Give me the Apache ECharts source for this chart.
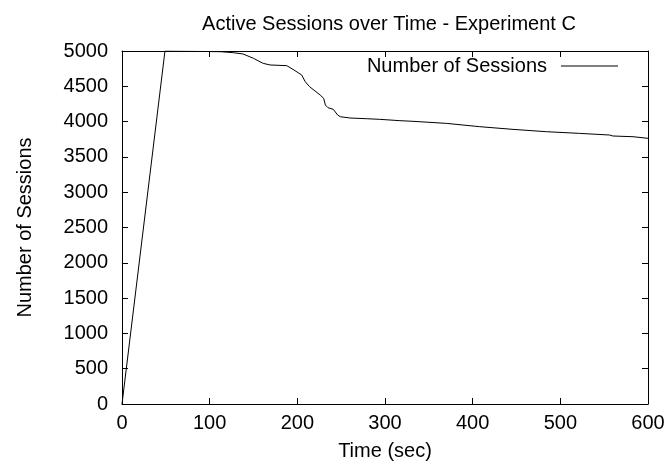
<!DOCTYPE html>
<html>
<head>
<meta charset="utf-8">
<script src="https://cdn.jsdelivr.net/npm/echarts@6/dist/echarts.min.js"></script>
<style>html,body{margin:0;padding:0;background:#fff;}#c{width:669px;height:468px;}</style>
</head>
<body>
<div id="c"></div>
<script>
const chartTitle = 'Active Sessions over Time - Experiment C';
const seriesName = 'Number of Sessions';
const xAxisName = 'Time (sec)';
const yAxisName = 'Number of Sessions';
const timeSec = [0, 49, 113, 127, 138, 150, 161, 169, 188, 195, 205, 209, 214, 226, 230, 232, 235, 241, 246, 249, 260, 279, 294, 317, 332, 370, 408, 446, 484, 522, 556, 560, 583, 600];
const sessions = [0, 5000, 4990, 4976, 4958, 4896, 4825, 4802, 4792, 4740, 4660, 4565, 4494, 4377, 4330, 4235, 4197, 4174, 4093, 4069, 4051, 4041, 4032, 4013, 4004, 3975, 3928, 3890, 3857, 3833, 3810, 3796, 3786, 3763];

const data = timeSec.map((t, i) => [t, sessions[i]]);
const font = 'Liberation Sans, Arial, sans-serif';
const FS = 20;
const chart = echarts.init(document.getElementById('c'), null, {renderer: 'canvas'});
const axisLine = {show: true, onZero: false, lineStyle: {color: '#000', width: 1}};
const tick = {show: true, inside: true, length: 6, lineStyle: {color: '#000'}};
const plain = v => String(v);
chart.setOption({
  animation: false,
  backgroundColor: '#fff',
  title: {
    text: chartTitle, left: 384, top: 9, textAlign: 'center',
    textStyle: {fontFamily: font, fontSize: FS, fontWeight: 'normal', color: '#000'}
  },
  legend: {
    right: 46, top: 51, align: 'right', icon: 'rect', itemWidth: 57, itemHeight: 1,
    itemGap: 0,
    textStyle: {fontFamily: font, fontSize: FS, color: '#000', padding: [0, 9, 0, 0]},
    data: [{name: seriesName, itemStyle: {color: '#000'}}]
  },
  grid: {left: 122, right: 21, top: 51, bottom: 64, containLabel: false},
  xAxis: [{
    type: 'value', min: 0, max: 600, interval: 100, position: 'bottom',
    name: xAxisName, nameLocation: 'middle', nameGap: 37,
    nameTextStyle: {fontFamily: font, fontSize: FS, color: '#000'},
    axisLine: axisLine, axisTick: tick, splitLine: {show: false},
    axisLabel: {fontFamily: font, fontSize: FS, color: '#000', margin: 9, formatter: plain}
  }, {
    type: 'value', min: 0, max: 600, interval: 100, position: 'top',
    axisLine: axisLine, axisTick: tick, splitLine: {show: false}, axisLabel: {show: false}
  }],
  yAxis: [{
    type: 'value', min: 0, max: 5000, interval: 500, position: 'left',
    name: yAxisName, nameLocation: 'middle', nameGap: 87, nameRotate: 90,
    nameTextStyle: {fontFamily: font, fontSize: FS, color: '#000'},
    axisLine: axisLine, axisTick: tick, splitLine: {show: false},
    axisLabel: {fontFamily: font, fontSize: FS, color: '#000', margin: 14, formatter: plain}
  }, {
    type: 'value', min: 0, max: 5000, interval: 500, position: 'right',
    axisLine: axisLine, axisTick: tick, splitLine: {show: false}, axisLabel: {show: false}
  }],
  series: [{
    name: seriesName, type: 'line', data: data, xAxisIndex: 0, yAxisIndex: 0,
    showSymbol: false, symbol: 'none', clip: true,
    lineStyle: {color: '#000', width: 1}, itemStyle: {color: '#000'}
  }]
});
</script>
</body>
</html>
